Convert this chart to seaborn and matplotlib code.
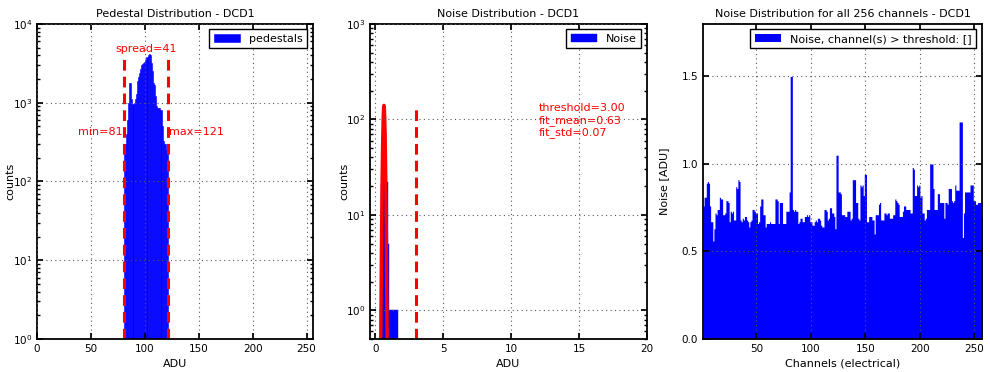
import numpy as np
import pandas as pd
import seaborn as sns
import matplotlib
matplotlib.use('Agg')
import matplotlib.pyplot as plt

# pedestal histogram (ADU value -> counts)
ped_adu = list(range(81, 122))
ped_counts = [270, 300, 400, 600, 1000, 1800, 1800, 1100, 950, 1000,
              1100, 1300, 1900, 2100, 2400, 2700, 3000, 3100, 3200, 3300,
              3500, 3800, 4000, 4200, 4000, 3200, 2500, 1800, 1700, 1200,
              900, 850, 850, 850, 800, 500, 330, 300, 300, 250,
              250]

# noise histogram
noise_edges = [0.31, 0.43, 0.55, 0.67, 0.79, 0.91, 1.03, 1.15, 1.27, 1.39, 1.51, 1.63]
noise_counts = [1, 21, 135, 76, 22, 5, 1, 1, 1, 1, 1]
threshold = 3.00
fit_mean = 0.63
fit_std = 0.07
fit_amp = 140

# noise per channel
channels = list(range(1, 257))
noise = [
    0.76, 0.81, 0.81, 0.89, 0.90, 0.89, 0.76, 0.67, 0.67, 0.56, 0.63, 0.72, 0.71, 0.74, 0.74, 0.81,
    0.80, 0.80, 0.71, 0.71, 0.72, 0.79, 0.79, 0.78, 0.67, 0.73, 0.72, 0.73, 0.68, 0.68, 0.87, 0.86,
    0.91, 0.90, 0.68, 0.67, 0.69, 0.68, 0.70, 0.70, 0.68, 0.67, 0.64, 0.67, 0.68, 0.74, 0.74, 0.73,
    0.72, 0.72, 0.66, 0.67, 0.76, 0.80, 0.80, 0.71, 0.71, 0.64, 0.66, 0.66, 0.66, 0.67, 0.66, 0.66,
    0.66, 0.66, 0.80, 0.80, 0.79, 0.66, 0.78, 0.78, 0.78, 0.66, 0.66, 0.66, 0.73, 0.73, 0.73, 0.84,
    1.50, 1.50, 0.74, 0.73, 0.74, 0.73, 0.73, 0.66, 0.67, 0.69, 0.69, 0.67, 0.67, 0.70, 0.70, 0.71,
    0.70, 0.71, 0.67, 0.67, 0.65, 0.65, 0.67, 0.68, 0.67, 0.69, 0.69, 0.68, 0.65, 0.64, 0.64, 0.74,
    0.74, 0.73, 0.68, 0.69, 0.75, 0.75, 0.72, 0.72, 0.70, 0.63, 1.05, 1.05, 0.84, 0.84, 0.83, 0.71,
    0.71, 0.71, 0.70, 0.70, 0.73, 0.73, 0.73, 0.68, 0.69, 0.91, 0.91, 0.91, 0.78, 0.78, 0.69, 0.68,
    0.88, 0.87, 0.88, 0.82, 0.94, 0.94, 0.67, 0.67, 0.70, 0.70, 0.70, 0.68, 0.68, 0.60, 0.71, 0.71,
    0.71, 0.77, 0.78, 0.68, 0.68, 0.68, 0.72, 0.72, 0.71, 0.72, 0.72, 0.69, 0.69, 0.69, 0.71, 0.71,
    0.80, 0.79, 0.78, 0.77, 0.70, 0.70, 0.70, 0.73, 0.76, 0.76, 0.74, 0.74, 0.74, 0.74, 0.72, 0.72,
    0.98, 0.97, 0.82, 0.82, 0.88, 0.87, 0.88, 0.81, 0.82, 0.72, 0.72, 0.68, 0.69, 0.74, 0.74, 0.74,
    1.00, 1.00, 1.00, 0.86, 0.74, 0.74, 0.74, 0.83, 0.83, 0.78, 0.78, 0.78, 0.78, 0.69, 0.78, 0.78,
    0.77, 0.86, 0.86, 0.86, 0.79, 0.78, 0.79, 0.88, 0.85, 0.85, 0.85, 1.24, 1.24, 1.24, 0.58, 0.72,
    0.84, 0.84, 0.84, 0.84, 0.84, 0.88, 0.88, 0.88, 0.79, 0.79, 0.77, 0.77, 0.78, 0.78, 0.78, 0.70,
]

sns.set_theme(style='ticks', rc={
    'xtick.direction': 'in', 'ytick.direction': 'in',
    'xtick.top': True, 'ytick.right': True,
    'xtick.bottom': True, 'ytick.left': True,
    'xtick.major.size': 4, 'ytick.major.size': 4,
    'xtick.minor.size': 2, 'ytick.minor.size': 2,
    'xtick.color': 'black', 'ytick.color': 'black',
    'xtick.labelsize': 7.5, 'ytick.labelsize': 7.5,
    'axes.edgecolor': 'black', 'axes.linewidth': 1.3,
    'axes.labelsize': 8, 'axes.titlesize': 8,
    'grid.color': '0.35', 'grid.linestyle': (0, (1, 3)), 'grid.linewidth': 0.8,
    'legend.fancybox': False, 'legend.edgecolor': 'black',
    'legend.framealpha': 1, 'legend.fontsize': 8,
    'text.color': 'black', 'axes.labelcolor': 'black',
})
plt.rcParams['font.family'] = ['DejaVu Sans']

fig = plt.figure(figsize=(9.9, 3.72), dpi=100)
ax1 = fig.add_axes([0.0374, 0.0887, 0.2788, 0.847])
ax2 = fig.add_axes([0.3737, 0.0887, 0.2798, 0.847])
ax3 = fig.add_axes([0.7101, 0.0887, 0.2818, 0.847])

red_kw = dict(color='red', fontsize=8)
dash_kw = dict(color='red', lw=2.2, ls=(0, (3.5, 2)))

# --- pedestals
ped = pd.DataFrame({'adu': ped_adu, 'counts': ped_counts})
sns.histplot(data=ped, x='adu', weights='counts', discrete=True, color='blue',
             alpha=1, edgecolor='blue', linewidth=0.4, label='pedestals', ax=ax1)
ax1.set_yscale('log')
ax1.set_ylim(1, 1e4)
ax1.set_xlim(0, 256)
ax1.set_xticks([0, 50, 100, 150, 200, 250])
pmin, pmax, ptop = min(ped_adu), max(ped_adu), max(ped_counts)
ax1.vlines([pmin - 0.5, pmax + 0.5], 1, ptop, **dash_kw)
ax1.text((pmin + pmax) / 2, ptop, f'spread={pmax - pmin + 1}', ha='center', va='bottom', **red_kw)
ax1.text(pmin - 1.5, ptop / 10, f'min={pmin}', ha='right', va='center', **red_kw)
ax1.text(pmax + 1.5, ptop / 10, f'max={pmax}', ha='left', va='center', **red_kw)
ax1.set_title('Pedestal Distribution - DCD1', pad=5)
ax1.set_xlabel('ADU')
ax1.set_ylabel('counts')
ax1.xaxis.set_label_coords(0.5, -0.063)
ax1.yaxis.set_label_coords(-0.08, 0.5)
ax1.grid(True, which='major')
ax1.legend(loc='upper right', handlelength=2.4, borderpad=0.4)

# --- noise distribution
centers = [(a + b) / 2 for a, b in zip(noise_edges[:-1], noise_edges[1:])]
sns.histplot(x=centers, weights=noise_counts, bins=noise_edges, color='blue',
             alpha=1, edgecolor='blue', linewidth=0.3, label='Noise', ax=ax2)
fit_x = np.linspace(0.3, 1.0, 200)
fit_y = fit_amp * np.exp(-0.5 * ((fit_x - fit_mean) / fit_std) ** 2)
sns.lineplot(x=fit_x, y=fit_y, color='red', lw=2.5, ax=ax2)
ax2.set_yscale('log')
ax2.set_ylim(0.5, 1e3)
ax2.set_xlim(-0.4, 20)
ax2.set_xticks([0, 5, 10, 15, 20])
ax2.vlines([threshold], 0.5, fit_amp, **dash_kw)
ax2.text(0.61, 0.749, f'threshold={threshold:.2f}\nfit_mean={fit_mean:.2f}\nfit_std={fit_std:.2f}',
         transform=ax2.transAxes, ha='left', va='top', **red_kw)
ax2.set_title('Noise Distribution - DCD1', pad=5)
ax2.set_xlabel('ADU')
ax2.set_ylabel('counts')
ax2.xaxis.set_label_coords(0.5, -0.063)
ax2.yaxis.set_label_coords(-0.076, 0.5)
ax2.grid(True, which='major')
ax2.legend(loc='upper right', handlelength=2.4, borderpad=0.4)

# --- noise per channel
noisy = [c for c, v in zip(channels, noise) if v > threshold]
sns.histplot(x=channels, weights=noise, binwidth=1, binrange=(1, 257), color='blue',
             alpha=1, element='step', linewidth=0,
             label=f'Noise, channel(s) > threshold: {noisy}', ax=ax3)
ax3.set_xlim(1, 257)
ax3.set_ylim(0, 1.8)
ax3.set_xticks([50, 100, 150, 200, 250])
ax3.set_yticks([0.0, 0.5, 1.0, 1.5])
ax3.set_title('Noise Distribution for all 256 channels - DCD1', pad=5)
ax3.set_xlabel('Channels (electrical)')
ax3.set_ylabel('Noise [ADU]')
ax3.xaxis.set_label_coords(0.5, -0.063)
ax3.yaxis.set_label_coords(-0.122, 0.5)
ax3.grid(True, which='major')
ax3.legend(loc='upper right', handlelength=2.4, borderpad=0.4)

for ax in (ax1, ax2, ax3):
    ax.set_axisbelow(False)
    ax.tick_params(which='both', top=True, right=True)

fig.savefig('out.png', dpi=100, facecolor='white')
